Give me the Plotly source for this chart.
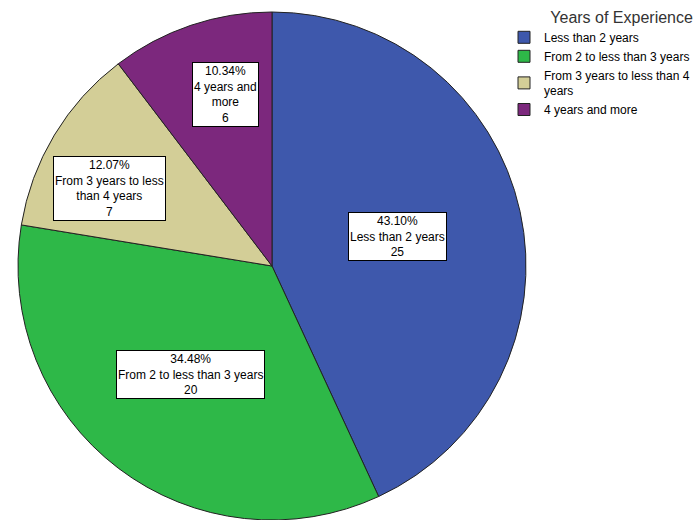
import plotly.graph_objects as go

# Years of experience distribution
categories = [
    "Less than 2 years",
    "From 2 to less than 3 years",
    "From 3 years to less than 4 years",
    "4 years and more",
]
counts = [25, 20, 7, 6]

# Wrapped text used inside the slice label boxes and the legend
box_names = [
    "Less than 2 years",
    "From 2 to less than 3 years",
    "From 3 years to less<br>than 4 years",
    "4 years and<br>more",
]
legend_names = [
    "Less than 2 years",
    "From 2 to less than 3 years",
    "From 3 years to less than 4<br>years",
    "4 years and more",
]
colors = ["#3E58AC", "#2EB848", "#D3CE97", "#7C287D"]

W, H = 695, 520
FONT = "Arial, Liberation Sans, sans-serif"

# Paper positions of the label boxes (pixel centres converted to paper units)
box_px = [(397, 237), (190, 374), (109, 188), (225, 94)]
box_pos = [(x / W, 1 - y / H) for x, y in box_px]

total = sum(counts)

fig = go.Figure(
    go.Pie(
        labels=legend_names,
        values=counts,
        sort=False,
        direction="clockwise",
        rotation=0,
        marker=dict(colors=colors, line=dict(color="#222222", width=1)),
        textinfo="none",
        textposition="none",
        hoverinfo="label+value+percent",
        domain=dict(x=[18 / W, 526 / W], y=[0, 508 / H]),
    )
)

for name, n, (x, y) in zip(box_names, counts, box_pos):
    fig.add_annotation(
        x=x, y=y, xref="paper", yref="paper",
        xanchor="center", yanchor="middle",
        text=f"{100 * n / total:.2f}%<br>{name}<br>{n}",
        showarrow=False,
        font=dict(family=FONT, size=12, color="black"),
        bgcolor="white",
        bordercolor="black",
        borderwidth=1,
        borderpad=1,
        align="center",
    )

fig.update_layout(
    width=W, height=H,
    margin=dict(l=0, r=0, t=0, b=0),
    paper_bgcolor="white",
    plot_bgcolor="white",
    font=dict(family=FONT, color="black"),
    legend=dict(
        x=1, y=1 - 2 / H, xanchor="right", yanchor="top",
        title=dict(text="Years of Experience", side="top right",
                   font=dict(family=FONT, size=16, color="#333333")),
        font=dict(family=FONT, size=12, color="black"),
        itemwidth=30,
        tracegroupgap=0,
        bgcolor="rgba(0,0,0,0)",
    ),
)

fig.write_html("out.html")
